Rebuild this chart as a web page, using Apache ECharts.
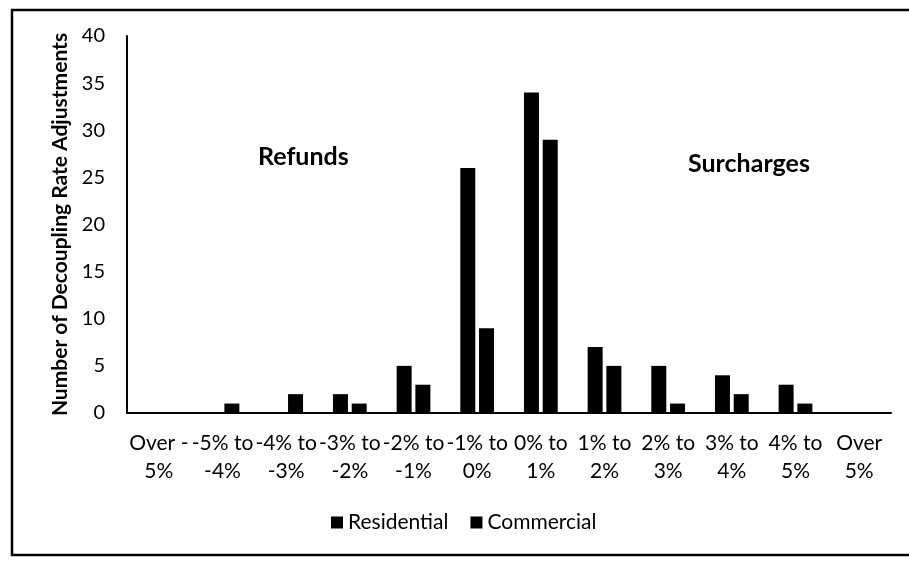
<!DOCTYPE html>
<html>
<head>
<meta charset="utf-8">
<script src="https://cdn.jsdelivr.net/npm/echarts@6/dist/echarts.min.js"></script>
<style>
html,body{margin:0;padding:0;background:#fff;}
#c{width:909px;height:561px;}
</style>
</head>
<body>
<div id="c"></div>
<script>
const categories = ['Over -\n5%', '-5% to\n-4%', '-4% to\n-3%', '-3% to\n-2%', '-2% to\n-1%', '-1% to\n0%', '0% to\n1%', '1% to\n2%', '2% to\n3%', '3% to\n4%', '4% to\n5%', 'Over\n5%'];
const residential = [0, 0, 0, 2, 5, 26, 34, 7, 5, 4, 3, 0];
const commercial = [0, 1, 2, 1, 3, 9, 29, 5, 1, 2, 1, 0];
const yTicks = [0, 5, 10, 15, 20, 25, 30, 35, 40];

const FONT = 'Lato, "Open Sans", sans-serif';
const chart = echarts.init(document.getElementById('c'), null, {renderer: 'canvas'});
chart.setOption({
  animation: false,
  backgroundColor: '#fff',
  textStyle: {fontFamily: FONT, color: '#000'},
  grid: {left: 127, right: 18, top: 36, bottom: 148, containLabel: false},
  legend: {
    data: ['Residential', 'Commercial'],
    left: 326,
    top: 507,
    icon: 'rect',
    itemWidth: 12,
    itemHeight: 12,
    itemGap: 22,
    textStyle: {fontFamily: FONT, fontSize: 21, color: '#000'}
  },
  xAxis: {
    type: 'category',
    data: categories,
    axisLine: {lineStyle: {color: '#000', width: 2}},
    axisTick: {show: false},
    axisLabel: {interval: 0, color: '#000', fontSize: 21, lineHeight: 28, margin: 16, fontFamily: FONT}
  },
  yAxis: {
    type: 'value',
    min: yTicks[0],
    max: yTicks[yTicks.length - 1],
    interval: yTicks[1] - yTicks[0],
    name: 'Number of Decoupling Rate Adjustments',
    nameLocation: 'middle',
    nameGap: 56,
    nameTextStyle: {fontFamily: FONT, fontSize: 21, fontWeight: 'bold', color: '#000'},
    axisLine: {show: true, lineStyle: {color: '#000', width: 2}},
    axisTick: {show: false},
    splitLine: {show: false},
    axisLabel: {color: '#000', fontSize: 20, margin: 22, fontFamily: FONT}
  },
  series: [
    {name: 'Residential', type: 'bar', data: residential, barWidth: 15, barGap: '25%', itemStyle: {color: '#000'}},
    {name: 'Commercial', type: 'bar', data: commercial, barWidth: 15, barGap: '25%', itemStyle: {color: '#000'}}
  ],
  graphic: [
    {type: 'text', left: 258, top: 144, style: {text: 'Refunds', font: 'bold 25px ' + FONT, fill: '#000'}},
    {type: 'text', left: 688, top: 151, style: {text: 'Surcharges', font: 'bold 25px ' + FONT, fill: '#000'}},
    {type: 'polyline', shape: {points: [[909, 10], [12, 10], [12, 555], [909, 555]]}, style: {stroke: '#000', lineWidth: 2.5, fill: null}}
  ]
});
</script>
</body>
</html>
